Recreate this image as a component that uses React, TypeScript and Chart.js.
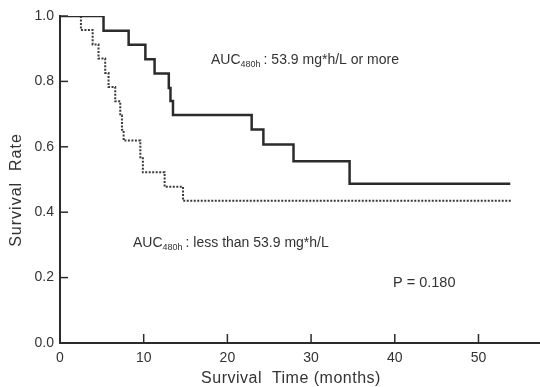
import React, { useEffect, useRef } from "react";
import { Chart, registerables } from "chart.js";

Chart.register(...registerables);

// Kaplan-Meier curves
const highTimes = [0, 5.2, 8.2, 10.2, 11.3, 13.0, 13.2, 13.5, 22.9, 24.3, 27.9, 34.6, 53.8];
const highRates = [1.0, 0.955, 0.912, 0.868, 0.824, 0.78, 0.74, 0.697, 0.653, 0.607, 0.556, 0.487, 0.487];
const lowTimes = [0, 2.5, 3.9, 4.6, 5.4, 5.8, 6.6, 7.2, 7.4, 7.6, 9.6, 9.9, 12.5, 14.7, 54.0];
const lowRates = [1.0, 0.957, 0.913, 0.87, 0.826, 0.783, 0.739, 0.696, 0.652, 0.619, 0.565, 0.522, 0.478, 0.435, 0.435];
const xTicks = [0, 10, 20, 30, 40, 50];
const yTicks = [0, 0.2, 0.4, 0.6, 0.8, 1.0];
const xTitle = "Survival  Time (months)";
const yTitle = "Survival  Rate";
const highLabel = [": 53.9 mg*h/L or more"];
const lowLabel = [": less than 53.9 mg*h/L"];
const pLabel = "P = 0.180";

const FONT = "'Liberation Sans', Arial, sans-serif";
const TEXT = "#333";
const LINE = "#2b2b2b";

const overlay = {
  id: "overlay",
  afterDraw(chart: any) {
    const { ctx, scales } = chart;
    const xs = scales.x;
    const ys = scales.y;
    ctx.save();
    // inward tick marks
    ctx.strokeStyle = LINE;
    ctx.lineWidth = 1.5;
    const x0 = xs.getPixelForValue(0);
    const y0 = ys.getPixelForValue(0);
    yTicks.forEach((v) => {
      if (v === 0) return;
      const y = ys.getPixelForValue(v);
      ctx.beginPath();
      ctx.moveTo(x0, y);
      ctx.lineTo(x0 + 8, y);
      ctx.stroke();
    });
    xTicks.forEach((v) => {
      if (v === 0) return;
      const x = xs.getPixelForValue(v);
      ctx.beginPath();
      ctx.moveTo(x, y0);
      ctx.lineTo(x, y0 - 9);
      ctx.stroke();
    });
    // titles
    ctx.fillStyle = TEXT;
    ctx.font = `16px ${FONT}`;
    ctx.textAlign = "center";
    ctx.textBaseline = "middle";
    (ctx as any).letterSpacing = "0.5px";
    ctx.fillText(xTitle, 291, 379);
    ctx.save();
    ctx.translate(17, 190);
    ctx.rotate(-Math.PI / 2);
    (ctx as any).letterSpacing = "1px";
    ctx.fillText(yTitle, 0, 0);
    ctx.restore();
    (ctx as any).letterSpacing = "0px";
    // annotations
    const drawAuc = (x: number, y: number, rest: string) => {
      ctx.textAlign = "left";
      ctx.textBaseline = "middle";
      ctx.font = `14px ${FONT}`;
      ctx.fillText("AUC", x, y);
      let w = ctx.measureText("AUC").width;
      ctx.font = `9px ${FONT}`;
      ctx.fillText("480h", x + w, y + 5);
      w += ctx.measureText("480h").width + 3;
      ctx.font = `14px ${FONT}`;
      ctx.fillText(rest, x + w, y);
    };
    drawAuc(211, 60, highLabel[0]);
    drawAuc(133, 243, lowLabel[0]);
    ctx.font = `14.5px ${FONT}`;
    ctx.textAlign = "left";
    ctx.fillText(pLabel, 393, 283);
    ctx.restore();
  },
};

export default function App() {
  const ref = useRef<HTMLCanvasElement | null>(null);
  useEffect(() => {
    if (!ref.current) return;
    const chart = new Chart(ref.current, {
      type: "line",
      data: {
        datasets: [
          {
            data: highTimes.map((t, i) => ({ x: t, y: highRates[i] })),
            borderColor: LINE,
            borderWidth: 2.5,
            stepped: "before",
            pointRadius: 0,
            fill: false,
          },
          {
            data: lowTimes.map((t, i) => ({ x: t, y: lowRates[i] })),
            borderColor: "#3a3a3a",
            borderWidth: 2,
            borderDash: [2, 1.5],
            stepped: "before",
            pointRadius: 0,
            fill: false,
          },
        ],
      },
      options: {
        responsive: false,
        animation: false,
        layout: { padding: { top: 16, right: 0, left: 0, bottom: 0 } },
        plugins: { legend: { display: false }, tooltip: { enabled: false } },
        scales: {
          x: {
            type: "linear",
            min: 0,
            max: 57.35,
            afterBuildTicks: (s: any) => {
              s.ticks = xTicks.map((v) => ({ value: v }));
            },
            afterFit: (s: any) => {
              s.height = 44;
            },
            grid: { display: false, drawTicks: false },
            border: { display: true, color: LINE, width: 2 },
            ticks: {
              font: { family: FONT, size: 14 },
              color: TEXT,
              padding: 7,
              maxRotation: 0,
              callback: (v: any) => String(v),
            },
          },
          y: {
            type: "linear",
            min: 0,
            max: 1,
            afterBuildTicks: (s: any) => {
              s.ticks = yTicks.map((v) => ({ value: v }));
            },
            afterFit: (s: any) => {
              s.width = 60;
            },
            grid: { display: false, drawTicks: false },
            border: { display: true, color: LINE, width: 2 },
            ticks: {
              font: { family: FONT, size: 14 },
              color: TEXT,
              padding: 6,
              callback: (v: any) => Number(v).toFixed(1),
            },
          },
        },
      },
      plugins: [overlay],
    });
    return () => chart.destroy();
  }, []);
  return (
    <div style={{ position: "absolute", left: 0, top: 0, width: 540, height: 387, background: "#fff" }}>
      <canvas ref={ref} width={540} height={387} />
    </div>
  );
}
